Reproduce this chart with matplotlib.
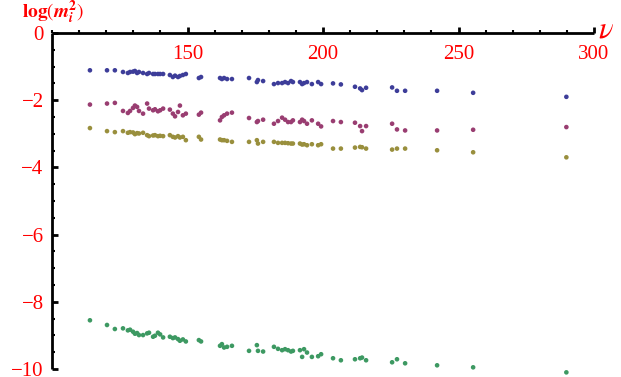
import matplotlib
matplotlib.use("Agg")
import matplotlib.pyplot as plt
from matplotlib.ticker import MultipleLocator, FixedLocator

plt.rcParams["font.family"] = ["Liberation Serif", "DejaVu Serif"]
plt.rcParams["mathtext.fontset"] = "stix"

# shared vev values (x) and log(m_i^2) for the four mass eigenstates
nu = [114.0, 120.3, 123.2, 126.2, 128.0, 128.8, 129.9, 130.6, 131.4, 132.1,
      133.6, 135.1, 135.8, 137.3, 138.0, 139.1, 139.9, 141.0, 143.5, 144.6,
      145.4, 146.5, 147.2, 148.3, 149.4, 154.2, 155.0, 162.0, 162.7, 163.5,
      164.6, 166.4, 172.7, 175.6, 176.0, 177.9, 181.9, 183.4, 184.9, 186.0,
      187.1, 188.2, 188.9, 191.5, 192.3, 193.0, 194.1, 195.9, 198.2, 199.3,
      203.7, 206.6, 211.8, 213.7, 214.4, 215.9, 225.5, 227.3, 230.3, 242.1,
      255.4, 289.8]

m1 = [-1.11, -1.11, -1.11, -1.16, -1.19, -1.16, -1.15, -1.13, -1.19, -1.16,
      -1.19, -1.22, -1.19, -1.22, -1.22, -1.22, -1.22, -1.22, -1.25, -1.31,
      -1.27, -1.31, -1.28, -1.25, -1.22, -1.34, -1.31, -1.34, -1.37, -1.34,
      -1.37, -1.37, -1.34, -1.46, -1.40, -1.43, -1.52, -1.49, -1.49, -1.46,
      -1.49, -1.43, -1.46, -1.46, -1.52, -1.49, -1.46, -1.52, -1.46, -1.52,
      -1.50, -1.53, -1.60, -1.65, -1.70, -1.63, -1.62, -1.72, -1.72, -1.72,
      -1.78, -1.90]

m2 = [-2.13, -2.10, -2.08, -2.32, -2.38, -2.32, -2.23, -2.16, -2.20, -2.32,
      -2.40, -2.10, -2.25, -2.30, -2.27, -2.33, -2.30, -2.25, -2.28, -2.40,
      -2.48, -2.35, -2.16, -2.45, -2.40, -2.43, -2.37, -2.60, -2.50, -2.45,
      -2.40, -2.37, -2.53, -2.65, -2.62, -2.58, -2.70, -2.62, -2.52, -2.58,
      -2.65, -2.65, -2.60, -2.65, -2.58, -2.62, -2.70, -2.60, -2.70, -2.78,
      -2.62, -2.65, -2.67, -2.77, -2.92, -2.77, -2.70, -2.87, -2.90, -2.90,
      -2.88, -2.80]

m3 = [-2.83, -2.92, -2.95, -2.92, -2.97, -2.95, -2.96, -3.01, -2.98, -2.99,
      -2.97, -3.04, -3.07, -3.05, -3.04, -3.07, -3.06, -3.07, -3.04, -3.09,
      -3.11, -3.07, -3.11, -3.09, -3.19, -3.09, -3.17, -3.17, -3.19, -3.19,
      -3.21, -3.24, -3.24, -3.19, -3.29, -3.24, -3.24, -3.27, -3.27, -3.27,
      -3.28, -3.29, -3.29, -3.29, -3.32, -3.31, -3.34, -3.31, -3.34, -3.31,
      -3.44, -3.44, -3.41, -3.39, -3.40, -3.44, -3.47, -3.44, -3.44, -3.49,
      -3.55, -3.70]

m4 = [-8.55, -8.69, -8.81, -8.79, -8.85, -8.83, -8.89, -8.95, -8.93, -8.99,
      -8.99, -8.94, -8.92, -9.04, -9.01, -8.92, -8.97, -9.06, -9.04, -9.08,
      -9.06, -9.11, -9.16, -9.12, -9.18, -9.14, -9.18, -9.31, -9.26, -9.36,
      -9.34, -9.31, -9.46, -9.29, -9.46, -9.48, -9.34, -9.40, -9.44, -9.41,
      -9.44, -9.48, -9.46, -9.44, -9.64, -9.41, -9.51, -9.64, -9.62, -9.56,
      -9.68, -9.74, -9.71, -9.68, -9.66, -9.74, -9.80, -9.71, -9.83, -9.89,
      -9.95, -10.10]

series = [m1, m2, m3, m4]
colors = ["#3d3d99", "#993d71", "#998f3d", "#3d9962"]

x_major = [150, 200, 250, 300]
y_major = [0, -2, -4, -6, -8, -10]

fig = plt.figure(figsize=(6.21, 3.77), dpi=100)
ax = fig.add_axes([52 / 621, 1 - 369 / 377, 542 / 621, 336 / 377])

for ys, c in zip(series, colors):
    ax.scatter(nu, ys, s=11, color=c, edgecolors="none", clip_on=False, zorder=3)

ax.set_xlim(100, 300)
ax.set_ylim(-10, 0)

for side in ("right", "bottom"):
    ax.spines[side].set_visible(False)
for side in ("left", "top"):
    ax.spines[side].set_linewidth(2)
    ax.spines[side].set_capstyle("butt")

ax.xaxis.set_major_locator(FixedLocator(x_major))
ax.xaxis.set_minor_locator(MultipleLocator(10))
ax.yaxis.set_major_locator(FixedLocator(y_major))
ax.yaxis.set_minor_locator(MultipleLocator(0.5))

ax.tick_params(axis="x", which="both", top=True, bottom=False,
               labeltop=True, labelbottom=False, direction="out",
               colors="black", labelcolor="red", labelsize=15, pad=-26)
ax.tick_params(axis="x", which="major", length=4, width=2)
ax.tick_params(axis="x", which="minor", length=2.5, width=1.5)
ax.tick_params(axis="y", which="both", left=True, right=False,
               direction="in", colors="black", labelcolor="red",
               labelsize=15, pad=6)
ax.tick_params(axis="y", which="major", length=4, width=2)
ax.tick_params(axis="y", which="minor", length=2.5, width=1.5)

ax.set_xticklabels([str(v) for v in x_major])
ax.set_yticklabels(["0" if v == 0 else "\u2212" + str(-v) for v in y_major])
for lbl in ax.get_yticklabels():
    lbl.set_verticalalignment("center_baseline")

ax.text(-0.055, 1.02, r"$\mathbf{log}(\mathbfit{m}_{\mathbfit{i}}^{\mathbf{2}})$",
        transform=ax.transAxes, color="red", fontsize=14,
        ha="left", va="bottom")
ax.text(1.008, 1.01, r"$\nu$", transform=ax.transAxes, color="red",
        fontsize=22, ha="left", va="center")

fig.savefig("out.png", dpi=100)
